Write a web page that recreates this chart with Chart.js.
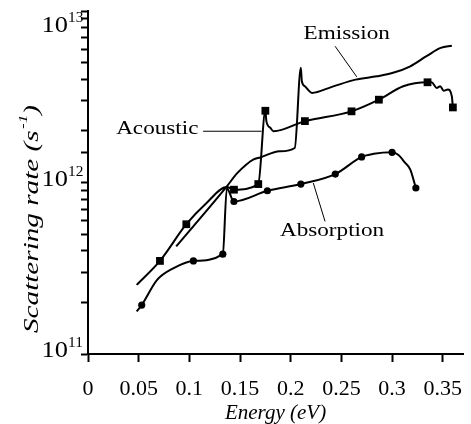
<!DOCTYPE html>
<html>
<head>
<meta charset="utf-8">
<script src="https://cdn.jsdelivr.net/npm/chart.js@4"></script>
<style>
  html, body { margin: 0; padding: 0; background: #fff; }
  #wrap { width: 471px; height: 424px; }
</style>
</head>
<body>
<div id="wrap"><canvas id="myChart"></canvas></div>
<script>
// energies in eV, scattering rates in 1/s
const acousticEnergy = [0.048, 0.071, 0.097, 0.117, 0.137, 0.144, 0.168, 0.175, 0.176, 0.180, 0.183, 0.214, 0.260, 0.287, 0.311, 0.335, 0.339, 0.344, 0.3475, 0.351, 0.355, 0.359, 0.360];
const acousticRate = [2.53e11, 3.49e11, 5.71e11, 7.6e11, 9.4e11, 9.08e11, 9.79e11, 2.62e12, 2.28e12, 2.08e12, 1.99e12, 2.28e12, 2.60e12, 3.04e12, 3.64e12, 3.84e12, 3.84e12, 3.56e12, 3.64e12, 3.43e12, 3.49e12, 3.18e12, 2.74e12];
const acousticMarks = [1, 2, 5, 6, 7, 11, 12, 13, 15, 22];

const emissionEnergy = [0.087, 0.137, 0.147, 0.156, 0.163, 0.170, 0.189, 0.204, 0.210, 0.211, 0.214, 0.221, 0.240, 0.264, 0.285, 0.301, 0.318, 0.334, 0.348, 0.359];
const emissionRate = [4.24e11, 9.5e11, 1.13e12, 1.27e12, 1.36e12, 1.40e12, 1.52e12, 1.59e12, 4.66e12, 3.89e12, 3.64e12, 3.33e12, 3.6e12, 3.98e12, 4.16e12, 4.36e12, 4.76e12, 5.45e12, 6.09e12, 6.28e12];

const absorptionEnergy = [0.048, 0.053, 0.068, 0.084, 0.104, 0.133, 0.137, 0.144, 0.177, 0.210, 0.244, 0.270, 0.282, 0.300, 0.306, 0.313, 0.318, 0.3235];
const absorptionRate = [1.77e11, 1.93e11, 2.70e11, 3.16e11, 3.49e11, 3.82e11, 9.27e11, 7.75e11, 8.95e11, 9.79e11, 1.12e12, 1.41e12, 1.47e12, 1.50e12, 1.45e12, 1.30e12, 1.19e12, 9.29e11];
const absorptionMarks = [1, 4, 5, 7, 8, 9, 10, 11, 13, 17];

const decadeTicks = [1e11, 1e12, 1e13];

// curve labels, placed in data coordinates, with their pointer lines
const curveLabels = [
  { text: "Emission", at: [0.2553, 7.3e12], from: [0.2438, 6.23e12], to: [0.2652, 4.13e12] },
  { text: "Acoustic", at: [0.0684, 2.05e12], from: [0.1136, 1.99e12], to: [0.1713, 1.99e12] },
  { text: "Absorption", at: [0.2408, 5.22e11], from: [0.2339, 5.93e11], to: [0.2223, 9.93e11] },
];

const serif = "'Liberation Serif', 'Times New Roman', serif";

const toPoints = (xs, ys) => xs.map((x, i) => ({ x: x, y: ys[i] }));
const markRadius = (marks, r) => (c) => (marks.includes(c.dataIndex) ? r : 0);

const textPlugin = {
  id: "figureText",
  afterDraw(chart) {
    const ctx = chart.ctx;
    const xs = chart.scales.x;
    const ys = chart.scales.y;
    ctx.save();
    ctx.fillStyle = "#000";
    ctx.strokeStyle = "#000";

    // y tick labels 10^n
    decadeTicks.forEach((v) => {
      const py = ys.getPixelForValue(v);
      const base = Math.max(py + 3, 32);
      ctx.save();
      ctx.translate(68, base);
      ctx.scale(1.1, 1);
      ctx.textBaseline = "alphabetic";
      ctx.textAlign = "right";
      ctx.font = "24px " + serif;
      ctx.fillText("10", 0, 0);
      ctx.textAlign = "left";
      ctx.font = "14px " + serif;
      ctx.fillText(String(Math.round(Math.log10(v))), 0, -10);
      ctx.restore();
    });

    // y axis title with superscript, stretched to the figure's length
    ctx.save();
    const main = "Scattering rate (s";
    const sup = "-1";
    ctx.font = "italic 22px " + serif;
    const w1 = ctx.measureText(main).width;
    const w3 = ctx.measureText(")").width;
    ctx.font = "italic 13px " + serif;
    const w2 = ctx.measureText(sup).width;
    const total = w1 + w2 + w3 + 1;
    ctx.translate(31, 219);
    ctx.rotate(-Math.PI / 2);
    ctx.scale(228 / total, 1);
    const x0 = -total / 2;
    ctx.textAlign = "left";
    ctx.textBaseline = "alphabetic";
    ctx.font = "italic 22px " + serif;
    ctx.fillText(main, x0, 7);
    ctx.font = "italic 13px " + serif;
    ctx.fillText(sup, x0 + w1 + 1, -4);
    ctx.font = "italic 22px " + serif;
    ctx.fillText(")", x0 + w1 + w2 + 1, 7);
    ctx.restore();

    // curve labels and pointers
    curveLabels.forEach((l) => {
      ctx.lineWidth = 1;
      ctx.beginPath();
      ctx.moveTo(xs.getPixelForValue(l.from[0]), ys.getPixelForValue(l.from[1]));
      ctx.lineTo(xs.getPixelForValue(l.to[0]), ys.getPixelForValue(l.to[1]));
      ctx.stroke();
      ctx.save();
      ctx.translate(xs.getPixelForValue(l.at[0]), ys.getPixelForValue(l.at[1]));
      ctx.scale(1.22, 1);
      ctx.font = "19px " + serif;
      ctx.textAlign = "center";
      ctx.textBaseline = "middle";
      ctx.fillText(l.text, 0, 0);
      ctx.restore();
    });
    ctx.restore();
  },
};

const lineStyle = {
  borderColor: "#000",
  borderWidth: 2,
  pointBackgroundColor: "#000",
  pointBorderWidth: 0,
  pointHoverRadius: 0,
  cubicInterpolationMode: "monotone",
  fill: false,
};

const ctx = document.getElementById("myChart").getContext("2d");
const myChart = new Chart(ctx, {
  type: "line",
  data: {
    datasets: [
      {
        ...lineStyle,
        label: "Emission",
        data: toPoints(emissionEnergy, emissionRate),
        pointRadius: 0,
      },
      {
        ...lineStyle,
        label: "Acoustic",
        data: toPoints(acousticEnergy, acousticRate),
        pointStyle: "rect",
        pointRadius: markRadius(acousticMarks, 5.5),
      },
      {
        ...lineStyle,
        label: "Absorption",
        data: toPoints(absorptionEnergy, absorptionRate),
        pointStyle: "circle",
        pointRadius: markRadius(absorptionMarks, 3.6),
      },
    ],
  },
  options: {
    responsive: true,
    maintainAspectRatio: false,
    animation: false,
    layout: { padding: { top: 11, right: 8, left: 0, bottom: 0 } },
    plugins: { legend: { display: false }, tooltip: { enabled: false } },
    scales: {
      x: {
        type: "linear",
        min: 0,
        max: 0.37,
        border: { display: true, color: "#000", width: 2 },
        grid: { drawOnChartArea: false, drawTicks: true, tickLength: 8, tickColor: "#000", tickWidth: 2 },
        ticks: {
          stepSize: 0.05,
          includeBounds: false,
          autoSkip: false,
          maxRotation: 0,
          color: "#000",
          padding: 14,
          font: { family: serif, size: 22 },
          callback: (v) => String(+v.toFixed(2)),
        },
        title: {
          display: true,
          text: "Energy (eV)",
          color: "#000",
          font: { family: serif, size: 21, style: "italic", lineHeight: 1 },
          padding: 0,
        },
        afterFit: (s) => {
          s.height = 70;
          s.paddingLeft = 0;
          s.paddingRight = 0;
        },
      },
      y: {
        type: "logarithmic",
        min: 1e11,
        max: 1e13,
        border: { display: true, color: "#000", width: 2 },
        grid: { drawOnChartArea: false, drawTicks: true, tickLength: 7, tickColor: "#000", tickWidth: 2 },
        ticks: { display: false },
        afterFit: (s) => {
          s.width = 88;
          s.paddingTop = 0;
          s.paddingBottom = 0;
        },
      },
    },
  },
  plugins: [textPlugin],
});
</script>
</body>
</html>
